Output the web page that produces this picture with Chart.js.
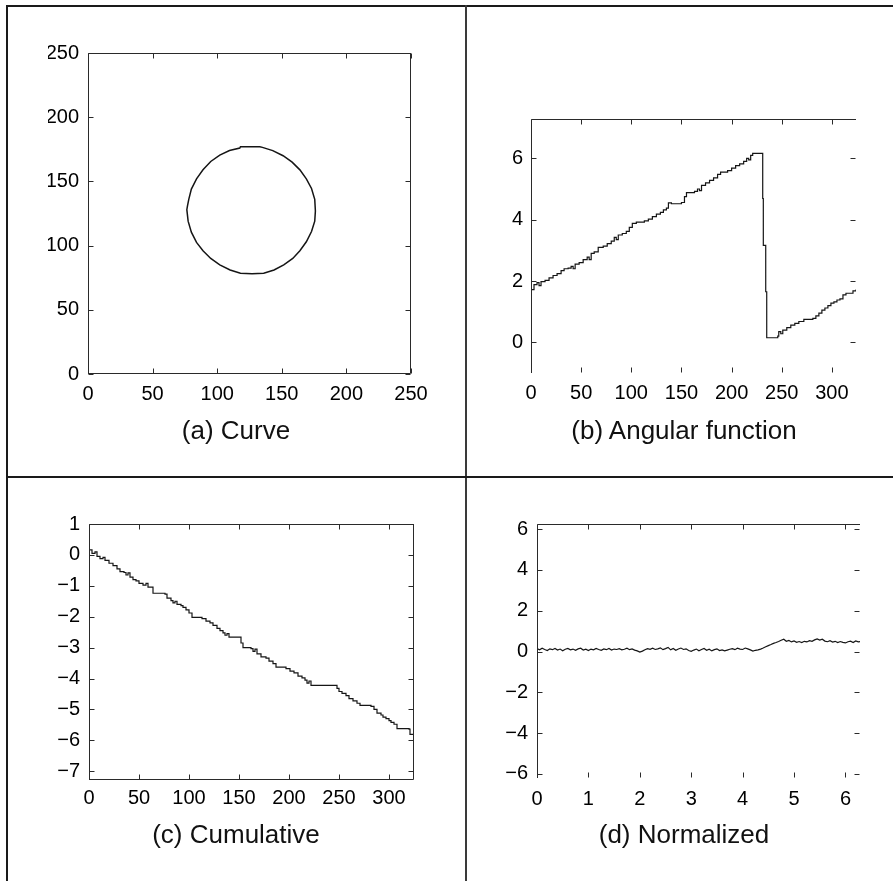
<!DOCTYPE html>
<html><head><meta charset="utf-8">
<script src="https://cdn.jsdelivr.net/npm/chart.js@4/dist/chart.umd.min.js"></script>
<style>
html,body{margin:0;padding:0;background:#fff;}
body{width:893px;height:881px;position:relative;overflow:hidden;font-family:"Liberation Sans",Arial,sans-serif;}
canvas{position:absolute;}
.ln{position:absolute;background:#1a1a1a;z-index:5;}
.cap{position:absolute;font-size:26px;line-height:26px;color:#111;text-align:center;white-space:nowrap;z-index:5;}
</style></head><body>
<div class="ln" style="left:6px;top:5px;width:887px;height:2px"></div>
<div class="ln" style="left:6px;top:5px;width:2px;height:876px"></div>
<div class="ln" style="left:465px;top:5px;width:2px;height:876px;background:#3a3a3a"></div>
<div class="ln" style="left:6px;top:476px;width:887px;height:2px"></div>

<canvas id="cA" width="466" height="476" style="left:0;top:0"></canvas>
<canvas id="cB" width="427" height="476" style="left:466px;top:0"></canvas>
<canvas id="cC" width="466" height="405" style="left:0;top:476px"></canvas>
<canvas id="cD" width="427" height="405" style="left:466px;top:476px"></canvas>

<div class="cap" style="left:6px;width:460px;top:417px">(a) Curve</div>
<div class="cap" style="left:466px;width:436px;top:417px">(b) Angular function</div>
<div class="cap" style="left:6px;width:460px;top:821px">(c) Cumulative</div>
<div class="cap" style="left:466px;width:436px;top:821px">(d) Normalized</div>

<script>
// ---------- DATA ----------
// (a) Curve: traced boundary points (x, y)
const curveX = [176, 175.5, 173, 169, 164, 158, 151, 143, 135, 133, 127, 118, 117.5, 109.5, 102, 95, 89, 84, 80, 78, 77, 76.5, 77.5, 80, 84, 89, 95, 102, 110, 118, 127, 136, 144, 151.5, 158.5, 164, 169, 173, 175.5, 176];
const curveY = [127, 136, 144.5, 152, 159, 165, 170, 174, 176.5, 177, 177, 177, 176, 174, 170.5, 165.5, 159, 152, 144, 136, 131, 128, 119, 110.5, 102.5, 96, 90, 85, 81, 78.5, 78, 78.5, 81, 85, 90, 96, 103, 111, 119, 127];
const curveTicks = [0, 50, 100, 150, 200, 250];

// (b) Angular function
const angX = [0, 3, 6, 8, 10, 14, 18, 22, 26, 30, 33, 37, 40, 42, 44, 48, 52, 56, 58, 60, 63, 67, 72, 76, 80, 83, 85, 87, 91, 95, 98, 101, 105, 113, 117, 121, 125, 129, 132, 135, 137, 140, 150, 153, 155, 163, 166, 168, 170, 174, 178, 182, 186, 189, 196, 200, 204, 208, 212, 215, 217, 219, 221, 231, 231.6, 234, 235, 246, 247, 249, 251, 255, 259, 263, 267, 272, 281, 284, 287, 290, 293, 296, 299, 302, 305, 308, 311, 314, 321, 324];
const angY = [1.72, 1.88, 1.95, 1.85, 1.98, 2.02, 2.1, 2.18, 2.24, 2.34, 2.4, 2.42, 2.48, 2.4, 2.55, 2.6, 2.7, 2.78, 2.7, 2.9, 2.95, 3.1, 3.14, 3.22, 3.3, 3.42, 3.35, 3.5, 3.55, 3.62, 3.75, 3.88, 3.92, 3.96, 4.02, 4.1, 4.18, 4.24, 4.32, 4.38, 4.55, 4.52, 4.56, 4.75, 4.88, 4.92, 5.0, 4.95, 5.12, 5.2, 5.28, 5.36, 5.48, 5.55, 5.6, 5.68, 5.76, 5.82, 5.9, 6.0, 5.95, 6.1, 6.16, 4.69, 3.16, 1.65, 0.15, 0.2, 0.35, 0.28, 0.4, 0.48, 0.56, 0.62, 0.68, 0.75, 0.78, 0.86, 0.95, 1.05, 1.12, 1.2, 1.28, 1.32, 1.38, 1.42, 1.55, 1.6, 1.68, 1.72];
const angXTicks = [0, 50, 100, 150, 200, 250, 300];
const angYTicks = [0, 2, 4, 6];

// (c) Cumulative
const cumX = [0, 3, 6, 8, 11, 14, 16, 20, 24, 28, 31, 35, 37, 39, 41, 44, 47, 50, 54, 57, 59, 64, 76, 78, 82, 84, 86, 88, 92, 94, 97, 100, 103, 113, 117, 121, 124, 128, 131, 134, 136, 138, 140, 150, 152, 154, 162, 164, 166, 168, 172, 177, 180, 184, 187, 197, 201, 205, 209, 213, 216, 218, 220, 222, 246, 248, 250, 253, 257, 260, 264, 268, 271, 282, 285, 288, 292, 294, 297, 300, 302, 305, 308, 320, 321, 325];
const cumY = [0.16, 0.05, 0.1, -0.05, -0.12, -0.08, -0.18, -0.27, -0.35, -0.45, -0.54, -0.57, -0.65, -0.58, -0.72, -0.8, -0.84, -0.92, -0.98, -0.92, -1.04, -1.24, -1.27, -1.4, -1.48, -1.55, -1.5, -1.6, -1.64, -1.7, -1.78, -1.88, -2.02, -2.06, -2.14, -2.2, -2.28, -2.38, -2.45, -2.52, -2.6, -2.55, -2.66, -2.66, -2.85, -3.0, -3.03, -3.12, -3.05, -3.2, -3.3, -3.34, -3.44, -3.52, -3.63, -3.68, -3.76, -3.82, -3.92, -3.98, -4.05, -4.15, -4.08, -4.22, -4.22, -4.32, -4.42, -4.48, -4.55, -4.65, -4.72, -4.8, -4.87, -4.9, -5.0, -5.12, -5.18, -5.25, -5.3, -5.36, -5.42, -5.48, -5.62, -5.64, -5.81, -5.81];
const cumXTicks = [0, 50, 100, 150, 200, 250, 300];
const cumYTicks = [1, 0, -1, -2, -3, -4, -5, -6, -7];

// (d) Normalized
const normX = [0, 0.05, 0.1, 0.15, 0.2, 0.25, 0.3, 0.35, 0.4, 0.45, 0.5, 0.55, 0.6, 0.65, 0.7, 0.75, 0.8, 0.85, 0.9, 0.95,
  1.0, 1.05, 1.1, 1.15, 1.2, 1.25, 1.3, 1.35, 1.4, 1.45, 1.5, 1.55, 1.6, 1.65, 1.7, 1.75, 1.8, 1.85, 1.9, 1.95,
  2.0, 2.05, 2.1, 2.15, 2.2, 2.25, 2.3, 2.35, 2.4, 2.45, 2.5, 2.55, 2.6, 2.65, 2.7, 2.75, 2.8, 2.85, 2.9, 2.95,
  3.0, 3.05, 3.1, 3.15, 3.2, 3.25, 3.3, 3.35, 3.4, 3.45, 3.5, 3.55, 3.6, 3.65, 3.7, 3.75, 3.8, 3.85, 3.9, 3.95,
  4.0, 4.05, 4.1, 4.15, 4.2, 4.25, 4.3, 4.35, 4.4, 4.45, 4.5, 4.55, 4.6, 4.65, 4.7, 4.75, 4.8, 4.85, 4.9, 4.95,
  5.0, 5.05, 5.1, 5.15, 5.2, 5.25, 5.3, 5.35, 5.4, 5.45, 5.5, 5.55, 5.6, 5.65, 5.7, 5.75, 5.8, 5.85, 5.9, 5.95,
  6.0, 6.05, 6.1, 6.15, 6.2, 6.25, 6.2832];
const normY = [0.14, 0.08, 0.16, 0.10, 0.05, 0.13, 0.09, 0.15, 0.07, 0.12, 0.04, 0.11, 0.15, 0.08, 0.12, 0.06, 0.13, 0.16, 0.07, 0.11,
  0.05, 0.12, 0.08, 0.15, 0.10, 0.06, 0.13, 0.09, 0.15, 0.07, 0.12, 0.10, 0.14, 0.08, 0.11, 0.16, 0.09, 0.13, 0.07, 0.03,
  -0.03, 0.02, 0.09, 0.14, 0.11, 0.16, 0.10, 0.13, 0.18, 0.09, 0.14, 0.20, 0.08, 0.15, 0.06, 0.12, 0.17, 0.10, 0.13, 0.05,
  0.01, 0.07, 0.12, 0.04, 0.10, 0.15, 0.06, 0.11, 0.03, 0.09, 0.13, 0.05, 0.08, 0.03, 0.07, 0.11, 0.14, 0.09, 0.16, 0.12,
  0.10, 0.17, 0.13, 0.08, 0.02, 0.06, 0.08, 0.12, 0.17, 0.23, 0.29, 0.34, 0.40, 0.44, 0.49, 0.55, 0.60, 0.50, 0.54, 0.47,
  0.52, 0.45, 0.49, 0.44, 0.50, 0.47, 0.53, 0.50, 0.57, 0.62, 0.56, 0.60, 0.51, 0.48, 0.53, 0.46, 0.50, 0.44, 0.49, 0.45,
  0.42, 0.48, 0.51, 0.44, 0.52, 0.47, 0.48];
const normXTicks = [0, 1, 2, 3, 4, 5, 6];
const normYTicks = [-6, -4, -2, 0, 2, 4, 6];

// ---------- RENDER ----------
const FONT = {family: '"Liberation Sans", Arial, Helvetica, sans-serif', size: 20};
const fmt = v => String(v).replace('-', '\u2212');

const frameTicks = {
  id: 'frameTicks',
  afterDatasetsDraw(chart, args, o) {
    const {ctx, chartArea: a, scales: {x, y}} = chart;
    ctx.save();
    ctx.strokeStyle = '#2a2a2a';
    ctx.lineWidth = 1;
    const L = o.len || 5;
    const l = Math.round(a.left) + 0.5, t = Math.round(a.top) + 0.5;
    const r = Math.round(a.right) - 0.5, b = Math.round(a.bottom) - 0.5;
    ctx.beginPath();
    ctx.moveTo(l, b + 0.5); ctx.lineTo(l, t); ctx.lineTo(r + 0.5, t);
    if (o.box) { ctx.moveTo(r, t); ctx.lineTo(r, b); ctx.lineTo(l, b); }
    x.ticks.forEach(tk => {
      const px = Math.round(x.getPixelForValue(tk.value)) + 0.5;
      ctx.moveTo(px, b); ctx.lineTo(px, b - L);
      ctx.moveTo(px, t); ctx.lineTo(px, t + L);
    });
    y.ticks.forEach(tk => {
      const py = Math.round(y.getPixelForValue(tk.value)) + 0.5;
      ctx.moveTo(l, py); ctx.lineTo(l + L, py);
      ctx.moveTo(r, py); ctx.lineTo(r - L, py);
    });
    ctx.stroke();
    ctx.restore();
  }
};

function makeChart(id, cfg) {
  const data = cfg.xs.map((v, i) => ({x: v, y: cfg.ys[i]}));
  return new Chart(document.getElementById(id), {
    type: 'line',
    data: {datasets: [{
      data,
      borderColor: '#151515',
      borderWidth: cfg.lw || 1.2,
      pointRadius: 0,
      tension: 0,
      fill: false,
      stepped: cfg.stepped || false
    }]},
    options: {
      responsive: false,
      animation: false,
      devicePixelRatio: 1,
      layout: {padding: cfg.pad},
      plugins: {legend: {display: false}, title: {display: false}, tooltip: {enabled: false},
        frameTicks: {box: cfg.box, len: 5}},
      scales: {
        x: {
          type: 'linear', min: cfg.xmin, max: cfg.xmax,
          grid: {display: false, drawTicks: false},
          border: {display: false},
          afterBuildTicks: s => { s.ticks = cfg.xt.map(v => ({value: v})); },
          afterFit: s => { s.height = 40; },
          ticks: {font: FONT, color: '#000', padding: cfg.xpad, maxRotation: 0, autoSkip: false, callback: fmt}
        },
        y: {
          type: 'linear', min: cfg.ymin, max: cfg.ymax,
          grid: {display: false, drawTicks: false},
          border: {display: false},
          afterBuildTicks: s => { s.ticks = cfg.yt.map(v => ({value: v})); },
          afterFit: s => { s.width = 40; },
          ticks: {font: FONT, color: '#000', padding: cfg.ypad, autoSkip: false, callback: fmt}
        }
      }
    },
    plugins: [frameTicks]
  });
}

makeChart('cA', {xs: curveX, ys: curveY, xmin: 0, xmax: 250, ymin: 0, ymax: 250,
  xt: curveTicks, yt: curveTicks, box: true, lw: 1.5, xpad: 8, ypad: 9,
  pad: {left: 48, right: 55, top: 53, bottom: 62}});

makeChart('cB', {xs: angX, ys: angY, xmin: 0, xmax: 324, ymin: -1, ymax: 7.2832,
  xt: angXTicks, yt: angYTicks, box: false, stepped: true, xpad: 8, ypad: 8,
  pad: {left: 25, right: 37, top: 119, bottom: 63}});

makeChart('cC', {xs: cumX, ys: cumY, xmin: 0, xmax: 325, ymin: -7.2832, ymax: 1,
  xt: cumXTicks, yt: cumYTicks, box: true, stepped: true, xpad: 6, ypad: 9,
  pad: {left: 49, right: 52, top: 48, bottom: 61}});

makeChart('cD', {xs: normX, ys: normY, xmin: 0, xmax: 6.2832, ymin: -6.2, ymax: 6.25,
  xt: normXTicks, yt: normYTicks, box: false, xpad: 9, ypad: 9,
  pad: {left: 31, right: 33, top: 48, bottom: 63}});
</script>
</body></html>
